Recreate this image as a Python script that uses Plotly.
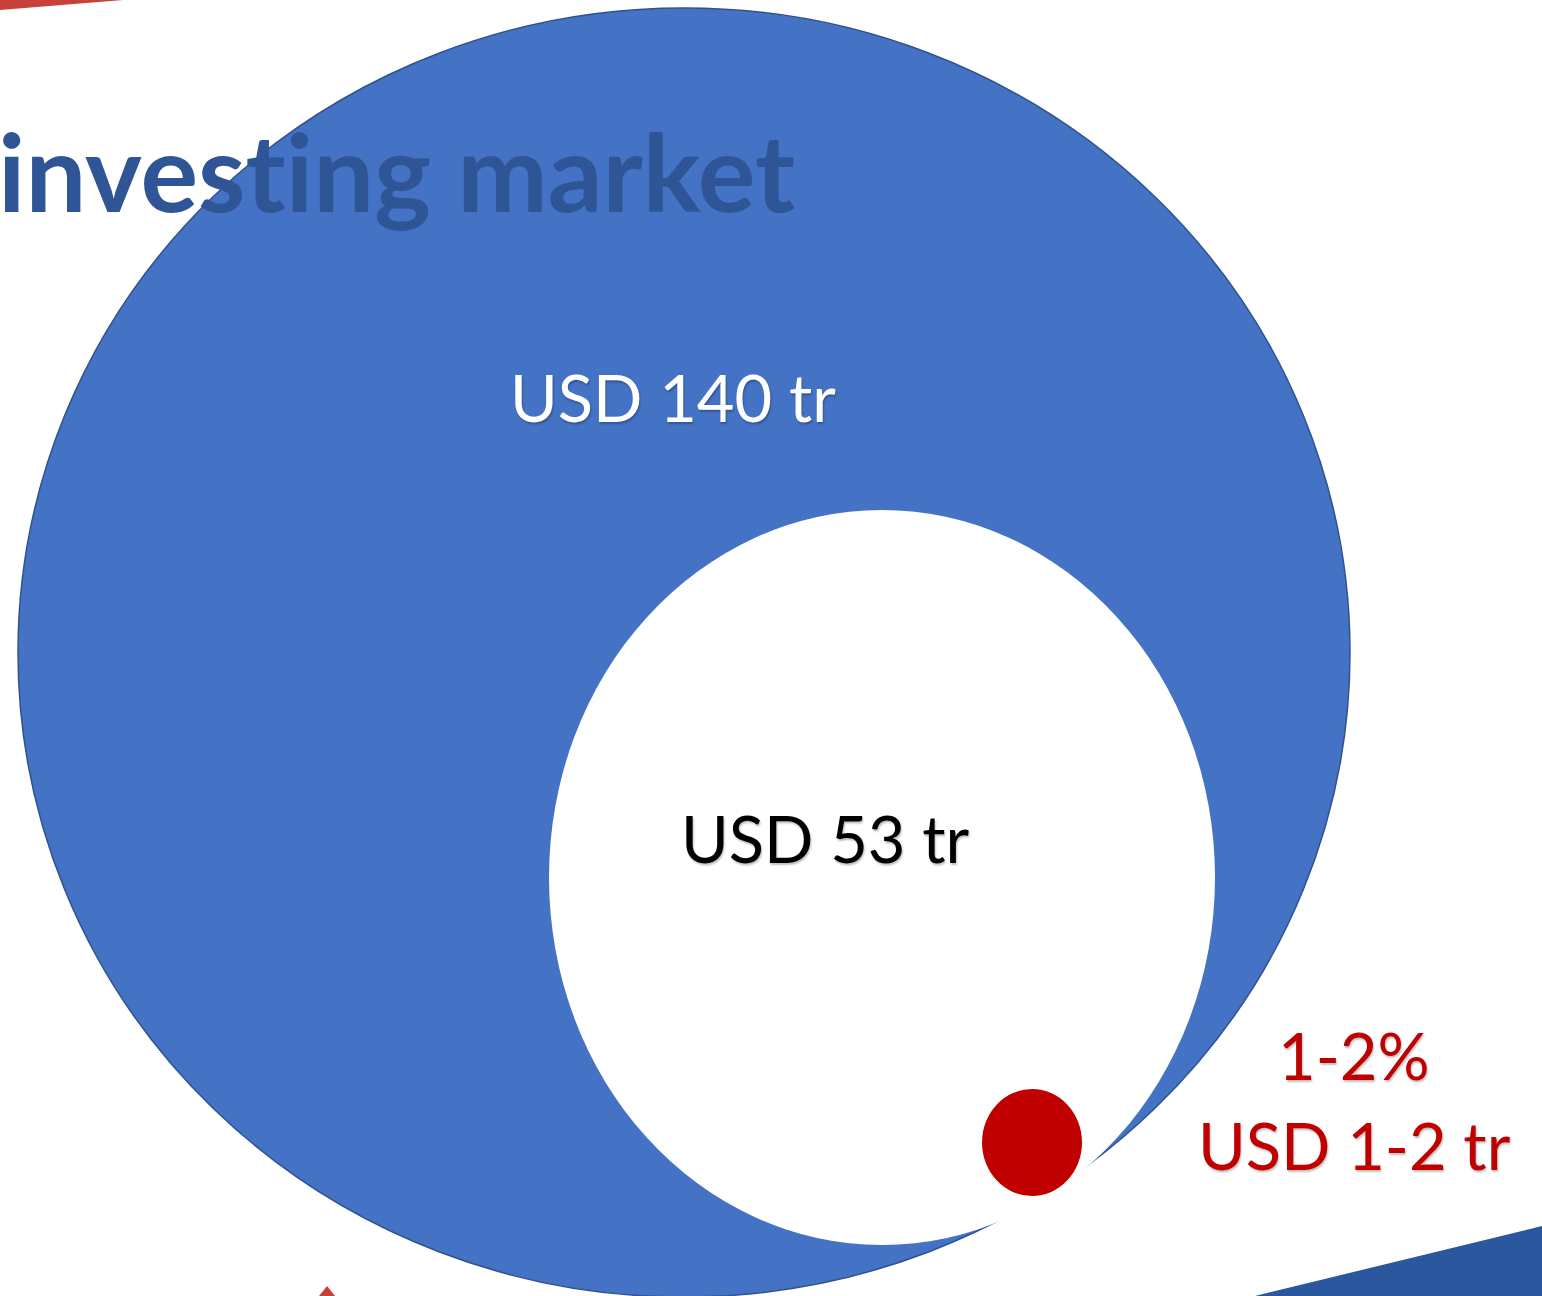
import plotly.graph_objects as go

# ---- data ----
title_text = "investing market"
circle_labels = ["USD 140 tr", "USD 53 tr", "USD 1-2 tr"]
circle_values = [140, 53, 1.5]
share_label = "1-2%"

W, H = 1542, 1296

fig = go.Figure()
fig.update_layout(
    width=W, height=H, autosize=False,
    margin=dict(l=0, r=0, t=0, b=0),
    paper_bgcolor="white", plot_bgcolor="white",
    xaxis=dict(range=[0, W], visible=False, fixedrange=True),
    yaxis=dict(range=[H, 0], visible=False, fixedrange=True),
    showlegend=False,
)

shapes = []
# decorative corner shapes
shapes.append(dict(type="path", path="M 0 0 L 123 0 L 0 10 Z",
                   fillcolor="#C8403A", line=dict(width=0), xref="x", yref="y"))
shapes.append(dict(type="path", path=f"M 1255 {H} L {W} 1226 L {W} {H} Z",
                   fillcolor="#2B579E", line=dict(width=0), xref="x", yref="y"))
shapes.append(dict(type="path", path=f"M 319 {H} L 327 1286 L 335 {H} Z",
                   fillcolor="#C8403A", line=dict(width=0), xref="x", yref="y"))
# big market circle
shapes.append(dict(type="circle", x0=18, x1=1350, y0=8, y1=1297,
                   fillcolor="#4472C4", line=dict(color="#2F528F", width=1.5),
                   xref="x", yref="y"))
# inner circle
shapes.append(dict(type="circle", x0=549, x1=1215, y0=510, y1=1245,
                   fillcolor="white", line=dict(width=0), xref="x", yref="y"))
# tiny circle
shapes.append(dict(type="circle", x0=982, x1=1082, y0=1089, y1=1196,
                   fillcolor="#C00000", line=dict(width=0), xref="x", yref="y"))
fig.update_layout(shapes=shapes)

shadow = "1px 2px 2px rgba(0,0,0,0.25)"
title_display = title_text.replace("ti", "t\u200ci")
ann = []
ann.append(dict(text=f"<b>{title_display}</b>", x=797, y=170, xanchor="right", yanchor="middle",
                showarrow=False, font=dict(family="Lato", size=108, color="#2F5597")))
ann.append(dict(text=circle_labels[0], x=673, y=397, xanchor="center", yanchor="middle",
                showarrow=False, font=dict(family="Lato", size=65, color="white", shadow=shadow)))
ann.append(dict(text=circle_labels[1], x=825, y=838, xanchor="center", yanchor="middle",
                showarrow=False, font=dict(family="Lato", size=65, color="black", shadow=shadow)))
ann.append(dict(text=share_label, x=1354, y=1055, xanchor="center", yanchor="middle",
                showarrow=False, font=dict(family="Lato", size=65, color="#C00000", shadow=shadow)))
ann.append(dict(text=circle_labels[2], x=1354, y=1145, xanchor="center", yanchor="middle",
                showarrow=False, font=dict(family="Lato", size=65, color="#C00000", shadow=shadow)))
fig.update_layout(annotations=ann)

fig.write_html("out.html", config={"displayModeBar": False, "staticPlot": True},
               post_script="document.body.style.margin='0';document.body.style.overflow='hidden';")
